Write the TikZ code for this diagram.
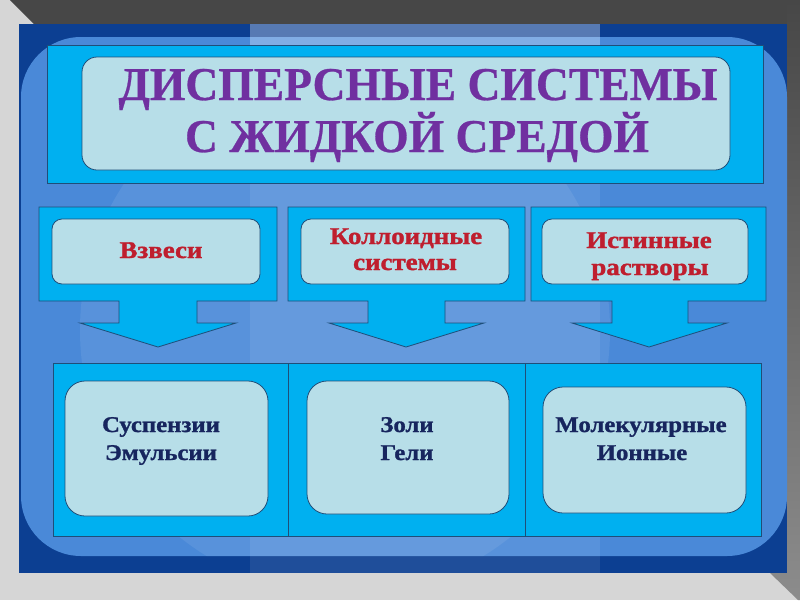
\documentclass[tikz,border=0pt]{standalone}
\usepackage{fontspec}
\setmainfont{Liberation Serif}
\newfontfamily\redfont[FakeStretch=1.12,FakeBold=1.4]{Liberation Serif}
\newfontfamily\navyfont[FakeStretch=1.1,FakeBold=1.2]{Liberation Serif}
\newfontfamily\titlefont[FakeStretch=0.97,FakeBold=0.6]{Liberation Serif}
\definecolor{lgray}{HTML}{D6D6D6}
\definecolor{dgray}{HTML}{474747}
\definecolor{mgray}{HTML}{8C8C8C}
\definecolor{panelblue}{HTML}{0C3F92}
\definecolor{medblue}{HTML}{4A89D8}
\definecolor{cyanfill}{HTML}{00B0F0}
\definecolor{paleblue}{HTML}{B7DEE8}
\definecolor{edgeblue}{HTML}{1F4E79}
\definecolor{titlepurple}{HTML}{7030A0}
\definecolor{redtext}{HTML}{BF1E2E}
\definecolor{navytext}{HTML}{17255E}
\tikzset{
  cyanbox/.style={fill=cyanfill, draw=edgeblue, line width=0.8pt},
  palebox/.style={fill=paleblue, draw=edgeblue, line width=0.8pt},
  titletxt/.style={anchor=base, inner sep=0pt, text=titlepurple, font=\titlefont\fontsize{47}{50}\selectfont\bfseries},
  redtxt/.style={anchor=base, inner sep=0pt, text=redtext, font=\redfont\fontsize{24}{26}\selectfont\bfseries},
  navytxt/.style={anchor=base, inner sep=0pt, text=navytext, font=\navyfont\fontsize{22.5}{26}\selectfont\bfseries}
}
\newcommand\myarrowbox[7]{%
  \draw[cyanbox] (#1,207) -- (#2,207) -- (#2,301) -- (#4,301) -- (#4,323) -- (#6,323)
    -- (#7,347) -- (#5,323) -- (#3,323) -- (#3,301) -- (#1,301) -- cycle;}
\begin{document}
\begin{tikzpicture}[x=1pt,y=-1pt]
\useasboundingbox (0,0) rectangle (800,600);
% background frame
\fill[lgray] (0,0) rectangle (800,600);
\fill[dgray] (10,0) -- (800,0) -- (800,24) -- (34,24) -- cycle;
\shade[top color=dgray, bottom color=mgray] (787,0) -- (800,0) -- (800,600) -- (798,600) -- (770,573) -- (787,573) -- cycle;
% slide panel
\fill[panelblue] (19,24) rectangle (787,573);
\fill[medblue, rounded corners=60] (21,37) rectangle (787,556);
\begin{scope}
  \clip[rounded corners=60] (21,37) rectangle (787,556);
  \fill[white, opacity=0.08] (345,330) circle (265);
\end{scope}
\fill[white, opacity=0.08] (250,24) rectangle (600,573);
\fill[white, opacity=0.25] (250,24) rectangle (600,45);
% title
\draw[cyanbox] (47,45) rectangle (763,183);
\draw[palebox, rounded corners=15] (82,57) rectangle (730,170);
\node[titletxt] (title1) at (418,100) {ДИСПЕРСНЫЕ СИСТЕМЫ};
\node[titletxt] (title2) at (417,152) {С ЖИДКОЙ СРЕДОЙ};
% second row: boxes with arrows
\myarrowbox{39}{277}{119}{197}{80}{236}{158}
\myarrowbox{288}{525}{368}{445}{329}{484}{406}
\myarrowbox{531}{766}{612}{688}{572}{727}{649}
\draw[palebox, rounded corners=10] (52,219) rectangle (260,284);
\draw[palebox, rounded corners=10] (301,219) rectangle (509,284);
\draw[palebox, rounded corners=10] (542,219) rectangle (748,284);
\node[redtxt] (vzvesi) at (161,258) {Взвеси};
\node[redtxt] (koll1) at (406,244) {Коллоидные};
\node[redtxt] (koll2) at (405,270) {системы};
\node[redtxt] (ist1) at (649,248) {Истинные};
\node[redtxt] (ist2) at (650,275) {растворы};
% bottom row
\draw[cyanbox] (53,363) rectangle (761,536);
\draw[edgeblue, line width=0.8pt] (288,363) -- (288,536);
\draw[edgeblue, line width=0.8pt] (525,363) -- (525,536);
\draw[palebox, rounded corners=20] (65,381) rectangle (268,516);
\draw[palebox, rounded corners=20] (307,381) rectangle (509,514);
\draw[palebox, rounded corners=20] (543,387) rectangle (746,513);
\node[navytxt] (susp) at (161,432) {Суспензии};
\node[navytxt] (emul) at (161,460) {Эмульсии};
\node[navytxt] (zoli) at (407,432) {Золи};
\node[navytxt] (geli) at (407,460) {Гели};
\node[navytxt] (molek) at (641,432) {Молекулярные};
\node[navytxt] (ion) at (642,460) {Ионные};
\end{tikzpicture}
\end{document}
